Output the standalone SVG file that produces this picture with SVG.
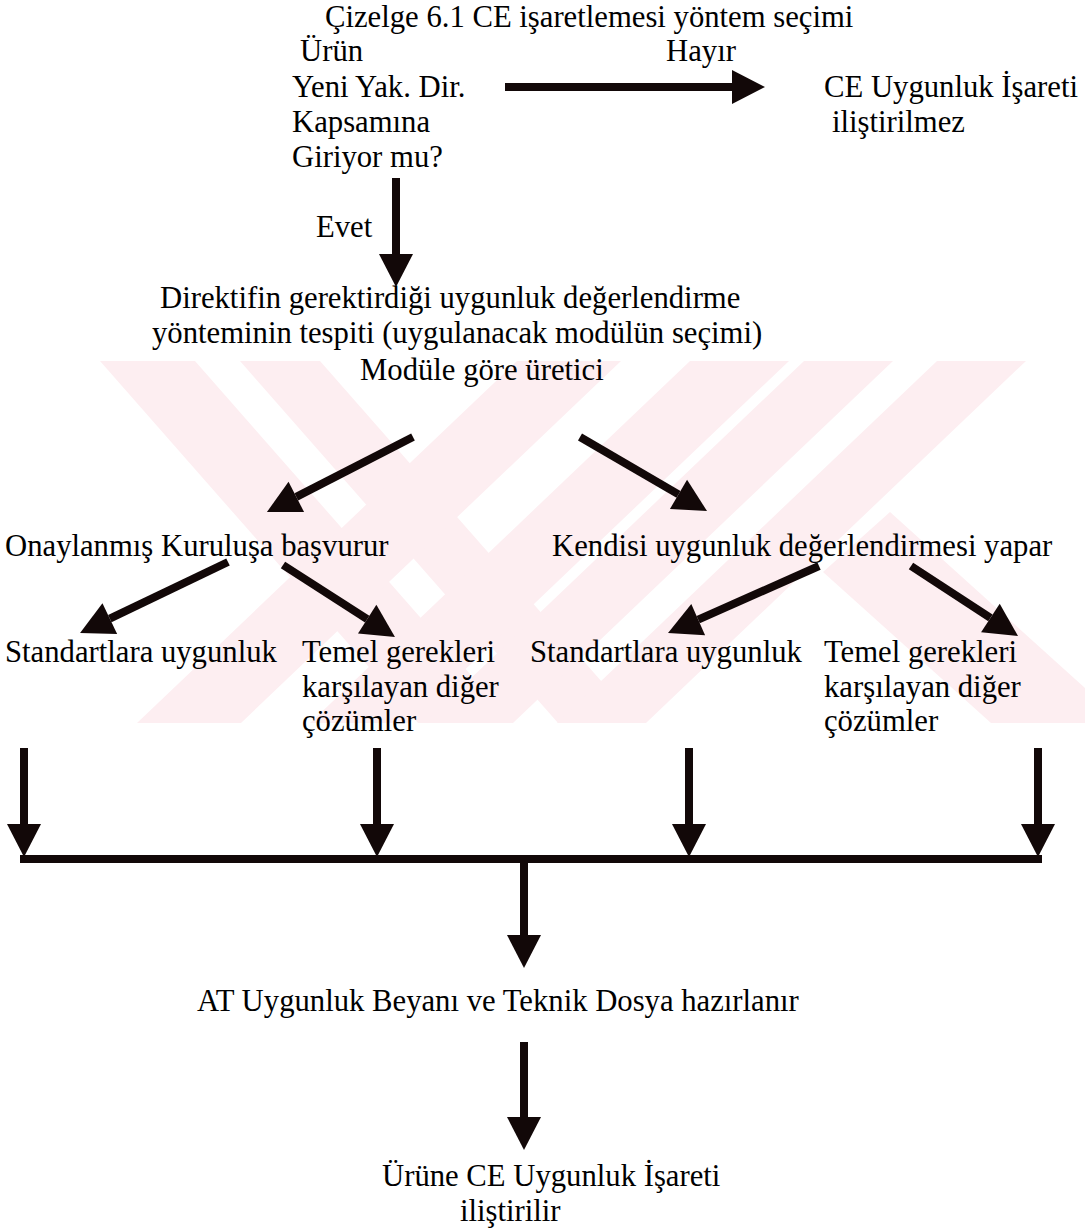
<svg xmlns="http://www.w3.org/2000/svg" width="1085" height="1229" viewBox="0 0 1085 1229">
<style>
text{font-family:"Liberation Serif","Times New Roman",serif;font-size:30.7px;fill:#000}
.c{stroke:#120808;stroke-width:8;fill:none;marker-end:url(#ah)}
.wm{fill:#fdeef1}
</style>
<defs>
<marker id="ah" markerUnits="userSpaceOnUse" markerWidth="34" markerHeight="36" refX="0" refY="17" orient="auto" overflow="visible">
<path d="M0,0 L33,17 L0,34 z" fill="#120808"/>
</marker>
<clipPath id="band"><rect x="0" y="361" width="1085" height="362"/></clipPath>
</defs>
<rect width="1085" height="1229" fill="#fff"/>

<!-- faint striped emblem in the background -->
<g id="watermark" class="wm" clip-path="url(#band)">
<polygon points="100,361 195,361 513,723 418,723"/>
<polygon points="240,361 320,361 638,723 558,723"/>
<polygon points="517,361 621,361 241,723 137,723"/>
<polygon points="690,361 789,361 409,723 310,723"/>
<polygon points="804,361 893,361 513,723 424,723"/>
<polygon points="937,361 1026,361 646,723 557,723"/>
<polygon points="890,512 1085,688 1085,723 991,723 823,572"/>
</g>

<text id="title" x="325" y="27">Çizelge 6.1 CE işaretlemesi yöntem seçimi</text>

<g id="connectors">
<line class="c" x1="505" y1="87" x2="732" y2="87" stroke-width="7"/>
<line class="c" x1="396" y1="178" x2="396" y2="254" stroke-width="9"/>
<line class="c" x1="413" y1="437" x2="296.3" y2="496.9"/>
<line class="c" x1="580" y1="437" x2="678.5" y2="494.4"/>
<line class="c" x1="228" y1="562" x2="109.8" y2="618.7"/>
<line class="c" x1="283" y1="565" x2="367.2" y2="619.1"/>
<line class="c" x1="819" y1="566" x2="698.2" y2="619.6"/>
<line class="c" x1="911" y1="566" x2="990.4" y2="617.9"/>
<line class="c" x1="24" y1="748" x2="24" y2="824" stroke-width="7"/>
<line class="c" x1="377" y1="748" x2="377" y2="824" stroke-width="7"/>
<line class="c" x1="689" y1="748" x2="689" y2="824" stroke-width="7"/>
<line class="c" x1="1038" y1="748" x2="1038" y2="824" stroke-width="7"/>
<line x1="20" y1="859" x2="1042" y2="859" stroke="#120808" stroke-width="8"/>
<line class="c" x1="524" y1="859" x2="524" y2="935"/>
<line class="c" x1="524" y1="1042" x2="524" y2="1117"/>
</g>

<g id="n-urun">
<text x="300" y="61">Ürün</text>
<text x="292" y="97">Yeni Yak. Dir.</text>
<text x="292" y="132">Kapsamına</text>
<text x="292" y="167">Giriyor mu?</text>
</g>
<text id="lbl-hayir" x="666" y="61">Hayır</text>
<g id="n-ilistirilmez">
<text x="824" y="97">CE Uygunluk İşareti</text>
<text x="832" y="132">iliştirilmez</text>
</g>
<text id="lbl-evet" x="316" y="237">Evet</text>
<g id="n-yontem">
<text x="160" y="308">Direktifin gerektirdiği uygunluk değerlendirme</text>
<text x="152" y="343">yönteminin tespiti (uygulanacak modülün seçimi)</text>
<text x="360" y="380">Modüle göre üretici</text>
</g>
<g id="n-onayli">
<text x="5" y="556">Onaylanmış Kuruluşa başvurur</text>
</g>
<g id="n-kendisi">
<text x="552" y="556">Kendisi uygunluk değerlendirmesi yapar</text>
</g>
<g id="n-std1">
<text x="5" y="662">Standartlara uygunluk</text>
</g>
<g id="n-temel1">
<text x="302" y="662">Temel gerekleri</text>
<text x="302" y="697">karşılayan diğer</text>
<text x="302" y="731">çözümler</text>
</g>
<g id="n-std2">
<text x="530" y="662">Standartlara uygunluk</text>
</g>
<g id="n-temel2">
<text x="824" y="662">Temel gerekleri</text>
<text x="824" y="697">karşılayan diğer</text>
<text x="824" y="731">çözümler</text>
</g>
<g id="n-beyan">
<text x="197" y="1011">AT Uygunluk Beyanı ve Teknik Dosya hazırlanır</text>
</g>
<g id="n-isaret">
<text x="382" y="1186">Ürüne CE Uygunluk İşareti</text>
<text x="460" y="1221">iliştirilir</text>
</g>
</svg>
